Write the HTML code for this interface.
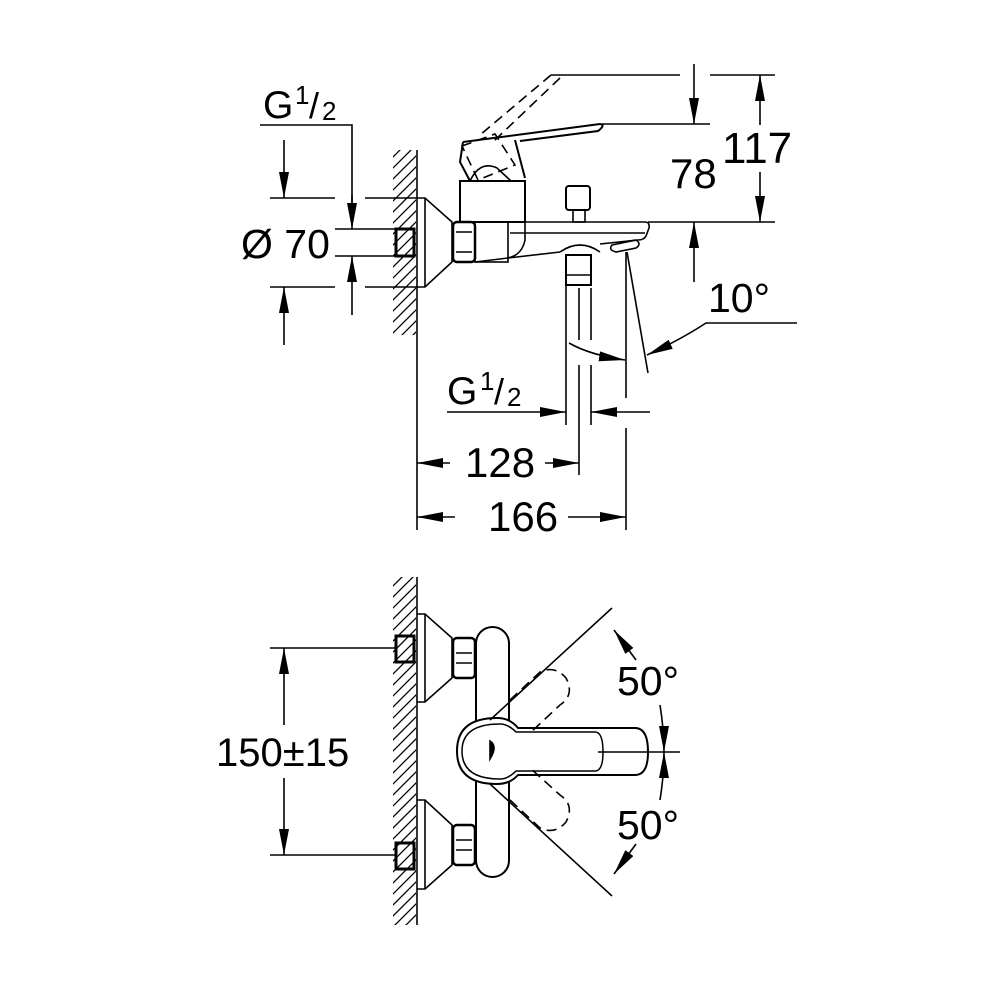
<!DOCTYPE html>
<html><head><meta charset="utf-8"><style>
html,body{margin:0;padding:0;background:#fff}
svg{display:block}
text{font-family:"Liberation Sans",Arial,sans-serif;fill:#000}
</style></head><body>
<svg width="1000" height="1000" viewBox="0 0 1000 1000" xmlns="http://www.w3.org/2000/svg">
<defs>
<pattern id="h" patternUnits="userSpaceOnUse" width="11" height="11">
<path d="M-2,13 L13,-2 M-2,2 L2,-2 M9,13 L13,9" stroke="#000" stroke-width="1.3"/>
</pattern>
<marker id="a" markerUnits="userSpaceOnUse" markerWidth="28" markerHeight="12" refX="26" refY="5" orient="auto">
<path d="M0,0 L26,5 L0,10 Z" fill="#000"/>
</marker>
</defs>
<g fill="none" stroke="#000" stroke-width="1.6">
<rect x="393" y="150" width="23" height="185" fill="url(#h)" stroke="none"/>
<line x1="417" y1="150" x2="417" y2="530"/>
<polyline points="260,125 352,125 352,225"/>
<line x1="270" y1="198" x2="335" y2="198"/><line x1="365" y1="198" x2="417" y2="198"/>
<line x1="270" y1="287" x2="335" y2="287"/><line x1="365" y1="287" x2="417" y2="287"/>
<line x1="335" y1="229" x2="395" y2="229"/><line x1="335" y1="256" x2="395" y2="256"/>
<line x1="284" y1="140" x2="284" y2="198" marker-end="url(#a)"/>
<line x1="284" y1="345" x2="284" y2="287" marker-end="url(#a)"/>
<line x1="352" y1="195" x2="352" y2="229" marker-end="url(#a)"/>
<line x1="352" y1="315" x2="352" y2="256" marker-end="url(#a)"/>
<rect x="396" y="229" width="18" height="27" stroke-width="3"/>
<path d="M417,198 L425,198 L452,222 L452,262 L425,287 L417,287"/>
<line x1="425" y1="198" x2="425" y2="287"/>
<rect x="453" y="222" width="22" height="40" rx="4" stroke-width="2.5"/>
<path d="M456,232 L472,232 M456,252 L472,252"/>
<rect x="475" y="222" width="33" height="40"/>
<rect x="460" y="181" width="65" height="41" stroke-width="2"/>
<path d="M508,222 L645,222 Q650,222 649,228 L646,236 Q644,240 638,240 L600,244"/>
<line x1="510" y1="233" x2="645" y2="233"/>
<path d="M525,222 L525,240 Q522,255 508,258 L475,262"/>
<path d="M508,258 L560,252"/>
<path d="M560,252 Q580,238 600,252"/>
<path d="M612,245 L636,240 Q642,244 636,248 L616,252 Q608,250 612,245 Z"/>
<rect x="566" y="186" width="24" height="24" rx="3" stroke-width="2"/>
<rect x="573" y="210" width="12" height="12"/>
<rect x="566" y="255" width="25" height="30" stroke-width="2"/>
<line x1="566" y1="275" x2="591" y2="275"/>
<path d="M463,142 L600,124 Q606,125 598,131 L520,141" stroke-width="2"/>
<path d="M463,142 L460,162 L470,181 M515,140 L525,178" stroke-width="2"/>
<path d="M470,181 Q480,160 497,168 L511,181" />
<g stroke-dasharray="10,6">
<path d="M551,75 L480,135 M560,78 L494,141"/>
<path d="M462,146 L495,134 L515,165 L478,180 Z"/>
</g>
<line x1="551" y1="75" x2="680" y2="75"/><line x1="710" y1="75" x2="775" y2="75"/>
<line x1="602" y1="124" x2="710" y2="124"/>
<line x1="648" y1="222" x2="775" y2="222"/>
<line x1="694" y1="64" x2="694" y2="124" marker-end="url(#a)"/>
<line x1="694" y1="282" x2="694" y2="222" marker-end="url(#a)"/>
<line x1="760" y1="125" x2="760" y2="75" marker-end="url(#a)"/>
<line x1="760" y1="172" x2="760" y2="222" marker-end="url(#a)"/>
<line x1="566" y1="285" x2="566" y2="425"/>
<line x1="579" y1="288" x2="579" y2="340"/><line x1="579" y1="365" x2="579" y2="475"/>
<line x1="591" y1="288" x2="591" y2="340"/><line x1="591" y1="365" x2="591" y2="425"/>
<line x1="626" y1="252" x2="626" y2="398"/><line x1="626" y1="428" x2="626" y2="530"/>
<line x1="627" y1="252" x2="648" y2="373"/>
<path d="M569,343 Q590,355 625,360" marker-end="url(#a)"/>
<path d="M797,323 L706,323 Q680,340 647,355" marker-end="url(#a)"/>
<line x1="447" y1="412" x2="566" y2="412" marker-end="url(#a)"/>
<line x1="650" y1="412" x2="591" y2="412" marker-end="url(#a)"/>
<line x1="450" y1="463" x2="417" y2="463" marker-end="url(#a)"/>
<line x1="545" y1="463" x2="579" y2="463" marker-end="url(#a)"/>
<line x1="455" y1="517" x2="417" y2="517" marker-end="url(#a)"/>
<line x1="568" y1="517" x2="626" y2="517" marker-end="url(#a)"/>

<rect x="393" y="577" width="23" height="348" fill="url(#h)" stroke="none"/>
<line x1="417" y1="577" x2="417" y2="925"/>
<line x1="270" y1="648" x2="395" y2="648"/><line x1="270" y1="855" x2="395" y2="855"/>
<line x1="284" y1="725" x2="284" y2="648" marker-end="url(#a)"/>
<line x1="284" y1="778" x2="284" y2="855" marker-end="url(#a)"/>
<rect x="396" y="636" width="18" height="26" stroke-width="3"/>
<rect x="396" y="843" width="18" height="26" stroke-width="3"/>
<path d="M417,614 L425,614 L452,638 L452,678 L425,702 L417,702"/>
<line x1="425" y1="614" x2="425" y2="702"/>
<path d="M417,800 L425,800 L452,825 L452,865 L425,889 L417,889"/>
<line x1="425" y1="800" x2="425" y2="889"/>
<rect x="453" y="638" width="22" height="40" rx="4" stroke-width="2.5"/>
<path d="M456,653 L472,653 M456,663 L472,663"/>
<rect x="453" y="825" width="22" height="40" rx="4" stroke-width="2.5"/>
<path d="M456,840 L472,840 M456,850 L472,850"/>
<rect x="476" y="627" width="33" height="250" rx="16.5" fill="#fff" stroke-width="2"/>
<path d="M497,718 Q510,718 518,728 L635,728 Q648,728 648,752 Q648,775 635,775 L518,775 Q510,784 497,784 Q457,784 457,751 Q457,718 497,718 Z" fill="#fff" stroke-width="2"/>
<path d="M500,724 Q508,724 516,732 L595,732 Q603,732 603,752 Q603,771 595,771 L516,771 Q508,779 500,779 Q462,779 462,751 Q462,724 500,724 Z" stroke-width="1.5"/>
<path d="M490,741 Q498,746 490,759 Z" fill="#000"/>
<line x1="598" y1="752" x2="680" y2="752"/>
<line x1="490" y1="720" x2="612" y2="608"/>
<line x1="490" y1="784" x2="612" y2="896"/>
<g stroke-dasharray="10,6">
<path d="M510,700 L540,672 Q555,665 566,678 Q575,695 560,705 L530,733"/>
<path d="M510,800 L540,828 Q555,835 566,822 Q575,805 560,795 L530,768"/>
</g>
<path d="M636,660 L614,630" marker-end="url(#a)"/>
<path d="M660,705 Q664,730 664,752" marker-end="url(#a)"/>
<path d="M660,800 Q664,775 664,752" marker-end="url(#a)"/>
<path d="M636,844 L614,874" marker-end="url(#a)"/>
</g>
<text x="263" y="118" font-size="39">G</text><text x="295" y="104" font-size="26">1</text><text x="309" y="118" font-size="36">/</text><text x="322" y="120" font-size="26">2</text>
<text x="241" y="258" font-size="41">Ø 70</text>
<text x="670" y="188" font-size="42">78</text>
<text x="722" y="163" font-size="44">117</text>
<text x="708" y="312" font-size="41">10°</text>
<text x="447" y="404" font-size="39">G</text><text x="480" y="390" font-size="26">1</text><text x="494" y="404" font-size="36">/</text><text x="507" y="406" font-size="26">2</text>
<text x="465" y="477" font-size="42">128</text>
<text x="488" y="531" font-size="42">166</text>
<text x="216" y="766" font-size="40">150±15</text>
<text x="617" y="695" font-size="41">50°</text>
<text x="617" y="839" font-size="41">50°</text>
</svg>
</body></html>
